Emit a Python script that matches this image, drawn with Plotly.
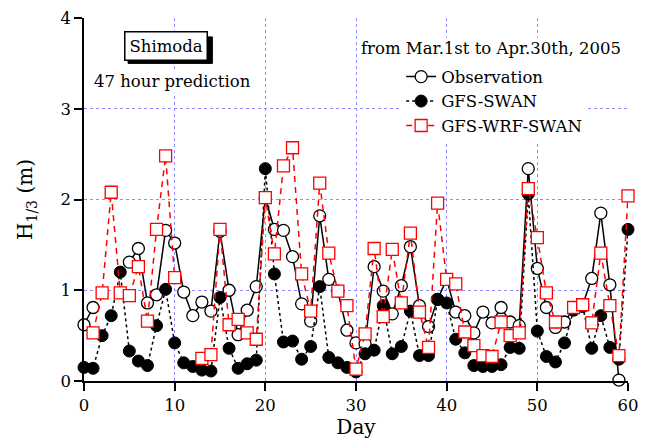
import plotly.graph_objects as go

days = list(range(61))

observation = [0.62, 0.81, None, None, None, 1.31, 1.46, 0.86, 0.95, 1.66,
               1.52, 0.98, 0.72, 0.87, 0.77, 1.65, 1.00, 0.51, 0.78, 1.04,
               2.02, 1.67, 1.66, 1.37, 0.85, 0.66, 1.82, 1.12, 0.99, 0.56,
               0.42, 0.41, 1.26, 0.99, 0.74, 1.05, 1.48, 0.83, 0.60, 0.90,
               1.12, 0.76, 0.72, 0.53, 0.76, 0.64, 0.81, 0.65, 0.61, 2.34,
               1.24, 0.81, 0.59, 0.65, 0.80, 0.84, 1.13, 1.85, 1.06, 0.01,
               None]

gfs_swan = [0.15, 0.14, 0.50, 0.72, 1.20, 0.33, 0.22, 0.17, 0.61, 1.01,
            0.42, 0.20, 0.16, 0.12, 0.11, 0.92, 0.36, 0.14, 0.19, 0.23,
            2.34, 1.18, 0.43, 0.44, 0.24, 0.38, 1.04, 0.26, 0.20, 0.15,
            0.10, 0.30, 0.34, 0.83, 0.30, 0.38, 0.77, 0.28, 0.28, 0.90,
            0.86, 0.46, 0.31, 0.17, 0.16, 0.16, 0.18, 0.37, 0.36, 2.06,
            0.55, 0.27, 0.21, 0.42, 0.78, 0.82, 0.36, 0.72, 0.37, 0.24,
            1.67]

gfs_wrf_swan = [None, 0.53, 0.97, 2.08, 0.97, 0.94, 1.26, 0.66, 1.67, 2.48,
                1.14, None, None, 0.25, 0.29, 1.67, 0.62, 0.68, 0.53, 0.46,
                2.02, 1.40, 2.37, 2.57, 1.18, 0.77, 2.18, 1.41, 0.99, 0.83,
                0.13, 0.52, 1.46, 0.71, 1.45, 0.86, 1.63, 0.76, 0.37, 1.96,
                1.12, 1.07, 0.54, 0.39, 0.28, 0.27, 0.65, 0.50, 0.53, 2.12,
                1.58, 0.97, 0.65, None, 0.81, 0.84, 0.64, 1.41, 0.83, 0.28,
                2.04]

x_ticks = [0, 10, 20, 30, 40, 50, 60]
y_ticks = [0, 1, 2, 3, 4]

FONT = "DejaVu Serif"
FS = 16.5
GRID = "#8c8cff"

fig = go.Figure()
fig.add_trace(go.Scatter(
    x=days, y=observation, name="Observation", mode="lines+markers",
    line=dict(color="black", width=1.5),
    marker=dict(symbol="circle", size=12, color="white",
                line=dict(color="black", width=1.3)),
    cliponaxis=False))
fig.add_trace(go.Scatter(
    x=days, y=gfs_swan, name="GFS-SWAN", mode="lines+markers",
    line=dict(color="black", width=1.5, dash="dot"),
    marker=dict(symbol="circle", size=12, color="black",
                line=dict(color="black", width=1)),
    cliponaxis=False))
fig.add_trace(go.Scatter(
    x=days, y=gfs_wrf_swan, name="GFS-WRF-SWAN", mode="lines+markers",
    line=dict(color="red", width=1.5, dash="6px,5px"),
    marker=dict(symbol="square", size=12, color="white",
                line=dict(color="red", width=1.3)),
    cliponaxis=False))

fig.update_layout(
    width=651, height=446,
    margin=dict(l=84, r=23, t=18, b=65),
    paper_bgcolor="white", plot_bgcolor="white",
    font=dict(family=FONT, size=FS, color="black"),
    showlegend=True,
    legend=dict(x=0.583, y=0.886, xanchor="left", yanchor="top",
                bgcolor="white", borderwidth=0,
                font=dict(family=FONT, size=FS),
                tracegroupgap=0, itemwidth=30),
    xaxis=dict(range=[0, 60], tickvals=x_ticks, ticks="outside", ticklen=8,
               tickwidth=1.5, tickcolor="black",
               showline=True, linecolor="black", linewidth=1.5,
               showgrid=True, gridcolor=GRID, griddash="dot", gridwidth=1,
               zeroline=False, automargin=False,
               title=dict(text="Day", standoff=6),
               tickfont=dict(size=FS)),
    yaxis=dict(range=[0, 4], tickvals=y_ticks, ticks="outside", ticklen=8,
               tickwidth=1.5, tickcolor="black",
               showline=True, linecolor="black", linewidth=1.5,
               showgrid=True, gridcolor=GRID, griddash="dot", gridwidth=1,
               zeroline=False, automargin=False,
               title=dict(text="H<sub>1/3</sub> (m)", standoff=22),
               tickfont=dict(size=FS)),
)

# drop shadow of the "Shimoda" label box
fig.add_shape(type="rect", xref="paper", yref="paper",
              x0=0.081, x1=0.236, y0=0.875, y1=0.948,
              fillcolor="black", line=dict(color="black", width=1),
              layer="above")
fig.add_annotation(xref="paper", yref="paper", x=0.151, y=0.923,
                   xanchor="center", yanchor="middle",
                   text="Shimoda", showarrow=False,
                   font=dict(family=FONT, size=FS, color="black"),
                   bgcolor="white", bordercolor="black", borderwidth=1.5,
                   borderpad=4)
fig.add_annotation(xref="paper", yref="paper", x=0.162, y=0.824,
                   xanchor="center", yanchor="middle",
                   text="47 hour prediction", showarrow=False,
                   font=dict(family=FONT, size=FS, color="black"),
                   bgcolor="white", borderpad=1)
fig.add_annotation(xref="paper", yref="paper", x=0.748, y=0.915,
                   xanchor="center", yanchor="middle",
                   text="from Mar.1st to Apr.30th, 2005", showarrow=False,
                   font=dict(family=FONT, size=FS, color="black"),
                   bgcolor="white", borderpad=1)

fig.write_html("out.html",
               config={"displayModeBar": False},
               post_script="document.body.style.margin='0px';")
